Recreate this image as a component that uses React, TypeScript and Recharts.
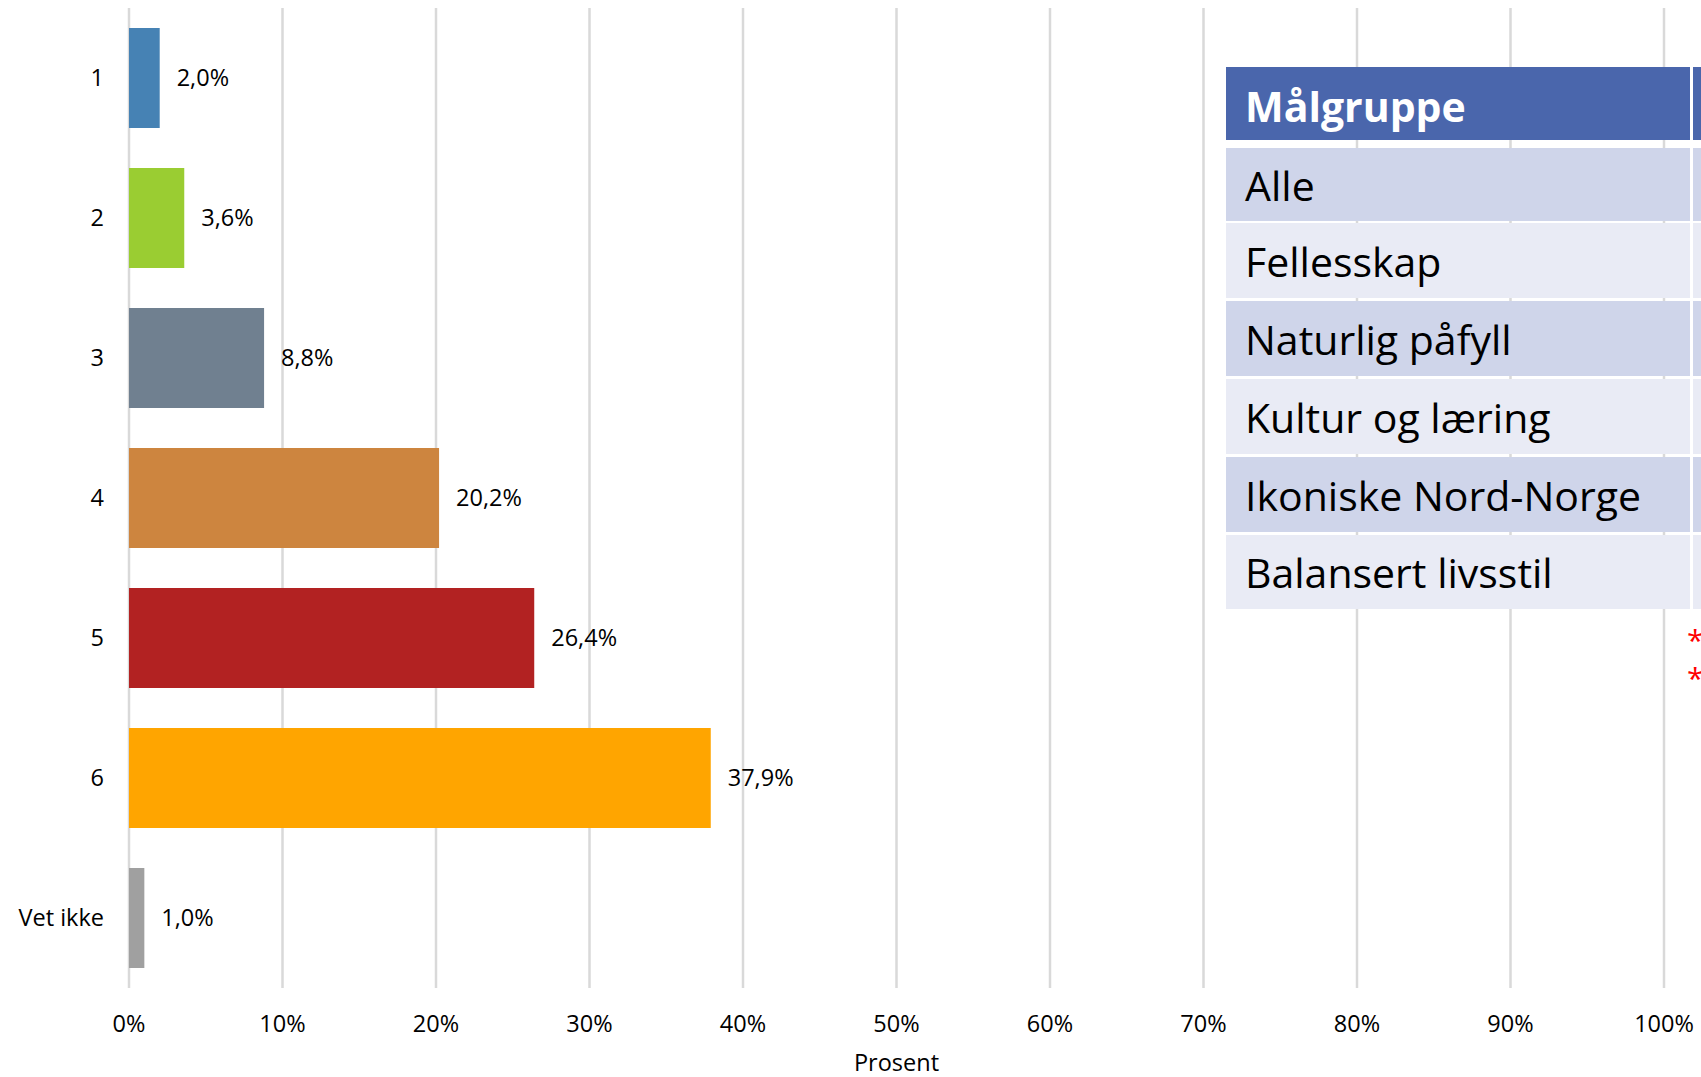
import React from "react";
import {
  BarChart,
  Bar,
  Cell,
  XAxis,
  YAxis,
  CartesianGrid,
  LabelList,
} from "recharts";

const categories = ["1", "2", "3", "4", "5", "6", "Vet ikke"];
const percentValues = [2.0, 3.6, 8.8, 20.2, 26.4, 37.9, 1.0];
const barColors = [
  "#4682B4",
  "#9ACD32",
  "#708090",
  "#CD853F",
  "#B22222",
  "#FFA500",
  "#A0A0A0",
];
const xTicks = [0, 10, 20, 30, 40, 50, 60, 70, 80, 90, 100];

const tableHeader = "Målgruppe";
const tableRows = [
  "Alle",
  "Fellesskap",
  "Naturlig påfyll",
  "Kultur og læring",
  "Ikoniske Nord-Norge",
  "Balansert livsstil",
];

const FONT = "'Open Sans', sans-serif";
const TICK_SIZE = 23.5;

const chartData = categories.map((name, i) => ({
  name,
  value: percentValues[i],
  color: barColors[i],
}));

const formatPct = (v: number) => v.toFixed(1).replace(".", ",") + "%";

// table overlay on the right, partly cut by the picture edge
function TargetTable() {
  const rowTops = [148, 223, 301, 379, 457, 535];
  const rowHeights = [73, 75, 75, 75, 75, 74];
  return (
    <div style={{ position: "absolute", left: 0, top: 0, width: 1701, height: 1077, pointerEvents: "none" }}>
      <div
        style={{
          position: "absolute",
          left: 1226,
          top: 67,
          width: 464,
          height: 73,
          background: "#4A66AC",
          color: "#FFFFFF",
          fontWeight: 700,
          fontSize: 41,
          display: "flex",
          alignItems: "center",
          paddingLeft: 19,
          paddingTop: 4,
          boxSizing: "border-box",
        }}
      >
        {tableHeader}
      </div>
      <div style={{ position: "absolute", left: 1693, top: 67, width: 20, height: 73, background: "#4A66AC" }} />
      {tableRows.map((row, i) => {
        const bg = i % 2 === 0 ? "#CFD5EA" : "#E9EBF5";
        return (
          <React.Fragment key={row}>
            <div
              style={{
                position: "absolute",
                left: 1226,
                top: rowTops[i],
                width: 464,
                height: rowHeights[i],
                background: bg,
                color: "#000000",
                fontSize: 41,
                display: "flex",
                alignItems: "center",
                paddingLeft: 19,
                boxSizing: "border-box",
                whiteSpace: "nowrap",
              }}
            >
              {row}
            </div>
            <div
              style={{
                position: "absolute",
                left: 1693,
                top: rowTops[i],
                width: 20,
                height: rowHeights[i],
                background: bg,
              }}
            />
          </React.Fragment>
        );
      })}
      {[0, 1].map((k) => (
        <div
          key={k}
          style={{
            position: "absolute",
            left: 1687,
            top: 630 + k * 38,
            height: 20,
            fontSize: 30,
            lineHeight: "20px",
            color: "#FF0000",
          }}
        >
          *
        </div>
      ))}
    </div>
  );
}

export default function App() {
  return (
    <div
      style={{
        position: "absolute",
        left: 0,
        top: 0,
        width: 1701,
        height: 1077,
        background: "#FFFFFF",
        overflow: "hidden",
        fontFamily: FONT,
      }}
    >
      <BarChart
        width={1701}
        height={1077}
        data={chartData}
        layout="vertical"
        margin={{ top: 8, right: 37, bottom: 0, left: 0 }}
      >
        <CartesianGrid horizontal={false} stroke="#D9D9D9" strokeWidth={2.5} />
        <XAxis
          type="number"
          domain={[0, 100]}
          ticks={xTicks}
          tickFormatter={(v: number) => v + "%"}
          axisLine={false}
          tickLine={false}
          tickSize={0}
          tickMargin={27}
          height={89}
          interval={0}
          tick={{ fill: "#000000", fontSize: TICK_SIZE, fontFamily: FONT }}
          label={{
            value: "Prosent",
            position: "insideBottom",
            offset: 6,
            fill: "#000000",
            fontSize: TICK_SIZE,
            fontFamily: FONT,
          }}
        />
        <YAxis
          type="category"
          dataKey="name"
          width={129}
          axisLine={false}
          tickLine={false}
          tickSize={0}
          tickMargin={25}
          interval={0}
          tick={{ fill: "#000000", fontSize: TICK_SIZE, fontFamily: FONT }}
        />
        <Bar dataKey="value" barSize={100} isAnimationActive={false}>
          {chartData.map((entry, index) => (
            <Cell key={`cell-${index}`} fill={entry.color} />
          ))}
          <LabelList
            dataKey="value"
            position="right"
            offset={17}
            formatter={(v: number) => formatPct(v)}
            fill="#000000"
            fontSize={TICK_SIZE}
            fontFamily={FONT}
          />
        </Bar>
      </BarChart>
      <TargetTable />
    </div>
  );
}
